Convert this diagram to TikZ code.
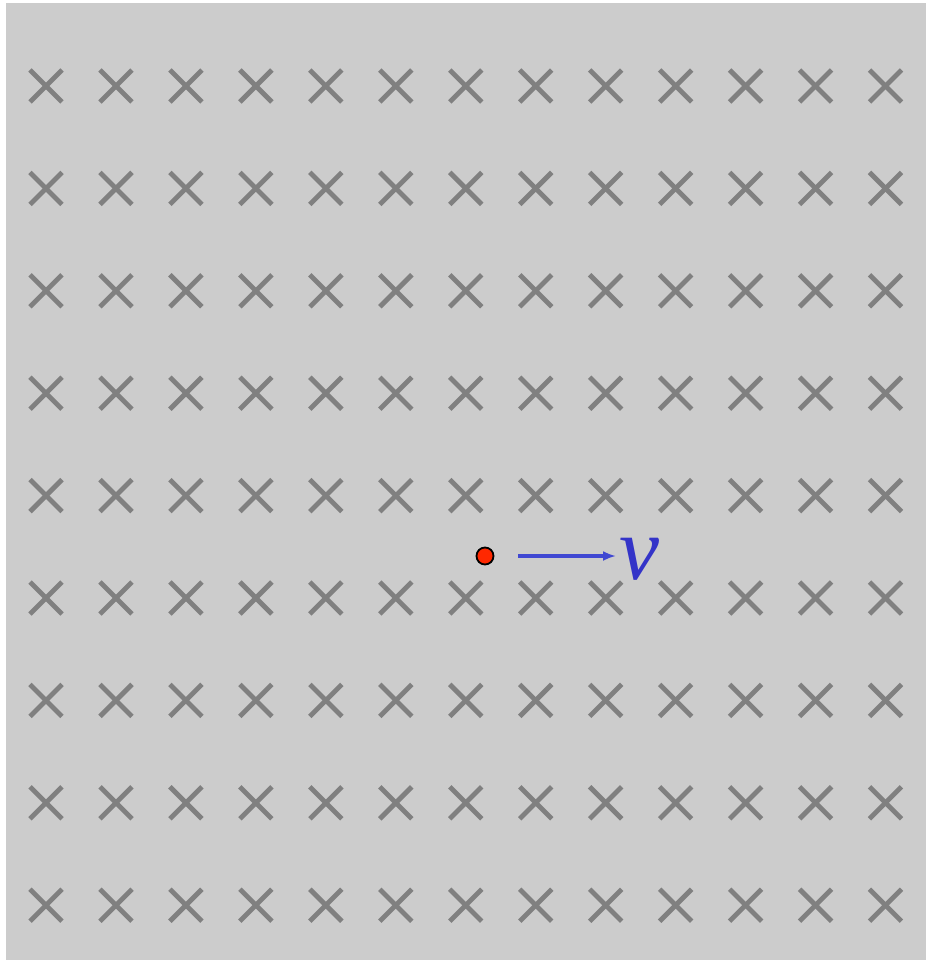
\documentclass[tikz,border=0pt]{standalone}
\usepackage{fontspec}
\setmainfont{Liberation Serif}
\usetikzlibrary{arrows.meta}
\definecolor{bggray}{RGB}{204,204,204}
\definecolor{crossgray}{RGB}{128,128,128}
\definecolor{velblue}{RGB}{64,72,210}
\definecolor{vblue}{RGB}{52,52,200}
\definecolor{chargered}{RGB}{255,40,0}
\begin{document}
\begin{tikzpicture}[x=1pt,y=-1pt,
  crossline/.style={draw=crossgray,line width=4.8pt},
  charge/.style={circle,draw=black,line width=1.8pt,fill=chargered,minimum size=17pt,inner sep=0pt},
  velarrow/.style={draw=velblue,line width=3.4pt,-{Latex[length=13pt,width=10pt]}},
  vlabel/.style={text=vblue,font=\fontsize{90}{90}\selectfont\itshape,inner sep=0pt}]
\useasboundingbox (0,0) rectangle (926,960);
\fill[bggray] (6,3) rectangle (926,960);
\foreach \i in {0,...,12}{
  \foreach \j in {0,...,8}{
    \pgfmathsetmacro{\cx}{46+69.96*\i}
    \pgfmathsetmacro{\cy}{86+102.4*\j}
    \draw[crossline] (\cx-16,\cy-16) -- (\cx+16,\cy+16);
    \draw[crossline] (\cx-16,\cy+16) -- (\cx+16,\cy-16);
  }
}
\node[charge] (q) at (485,556) {};
\coordinate (astart) at (518,556);
\coordinate (aend) at (616,556);
\draw[velarrow] (astart) -- (aend);
\node[vlabel,anchor=base west] (v) at (619,579) {v};
\end{tikzpicture}
\end{document}
